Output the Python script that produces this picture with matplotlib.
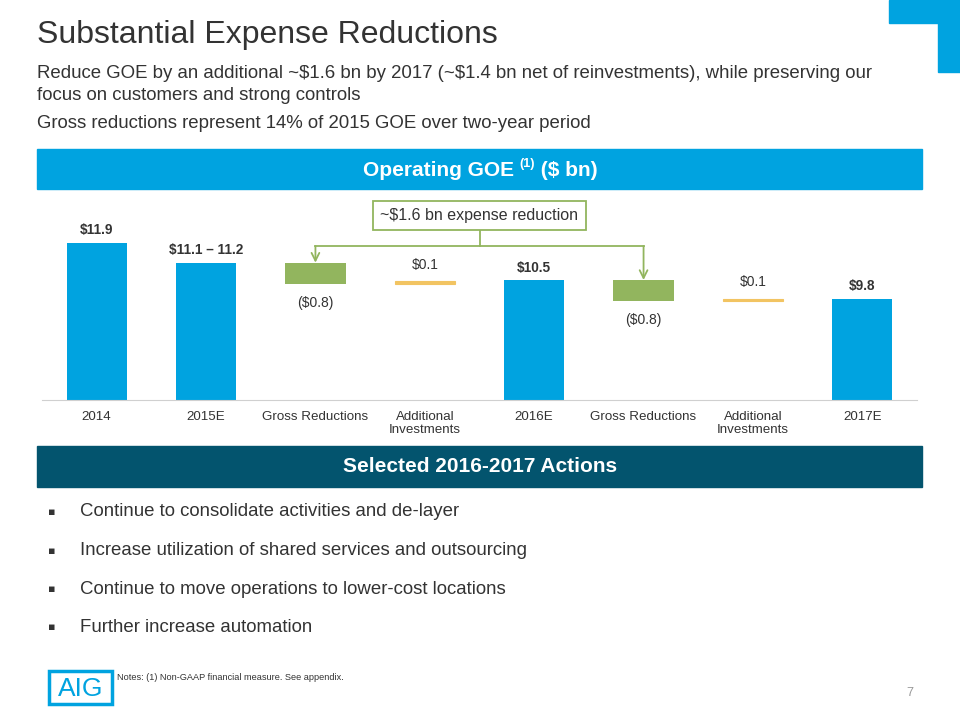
import matplotlib.pyplot as plt
from matplotlib.patches import Rectangle

plt.rcParams['font.family'] = ['Liberation Sans', 'DejaVu Sans']
plt.rcParams['text.parse_math'] = False

# chart data
categories = ['2014', '2015E', 'Gross Reductions', 'Additional\nInvestments',
              '2016E', 'Gross Reductions', 'Additional\nInvestments', '2017E']
kinds = ['total', 'total', 'down', 'up', 'total', 'down', 'up', 'total']
values = [11.9, 11.15, -0.8, 0.1, 10.5, -0.8, 0.1, 9.8]
labels = ['$11.9', '$11.1 – 11.2', '($0.8)', '$0.1', '$10.5', '($0.8)', '$0.1', '$9.8']

bullets = ['Continue to consolidate activities and de-layer',
           'Increase utilization of shared services and outsourcing',
           'Continue to move operations to lower-cost locations',
           'Further increase automation']

BLUE = '#00A3E0'
DARK = '#03546E'
GREEN = '#92B55E'
GOLD = '#F2C462'
TXT = '#333333'

W, H = 960, 720
fig = plt.figure(figsize=(9.6, 7.2), dpi=100)

def fx(px):
    return px / W

def fy(py):
    return 1 - py / H

# corner decoration
fig.patches.append(Rectangle((fx(889), fy(23)), fx(71), 23 / H, transform=fig.transFigure,
                             color=BLUE, zorder=0))
fig.patches.append(Rectangle((fx(938), fy(72)), fx(22), 72 / H, transform=fig.transFigure,
                             color=BLUE, zorder=0))

# title and subtitles
fig.text(fx(37), fy(35), 'Substantial Expense Reductions', fontsize=23, color=TXT, va='center')
fig.text(fx(37), fy(74), 'Reduce GOE by an additional ~$1.6 bn by 2017 (~$1.4 bn net of reinvestments), while preserving our',
         fontsize=13.45, color=TXT, va='center')
fig.text(fx(37), fy(96), 'focus on customers and strong controls', fontsize=13.45, color=TXT, va='center')
fig.text(fx(37), fy(123), 'Gross reductions represent 14% of 2015 GOE over two-year period',
         fontsize=13.45, color=TXT, va='center')

# banners
fig.patches.append(Rectangle((fx(37), fy(189)), fx(885), 40 / H, transform=fig.transFigure,
                             color=BLUE, zorder=0))
fig.patches.append(Rectangle((fx(37), fy(487)), fx(885), 41 / H, transform=fig.transFigure,
                             color=DARK, zorder=0))
fig.text(0.5, fy(467), 'Selected 2016-2017 Actions', fontsize=15, color='white',
         fontweight='bold', ha='center', va='center')

# banner title with superscript, laid out piece by piece
renderer = fig.canvas.get_renderer()
pieces = [('Operating GOE ', 15, 0), ('(1)', 9, 6), (' ($ bn)', 15, 0)]
objs = []
total = 0
for s, size, lift in pieces:
    t = fig.text(0, fy(170) + lift / H, s, fontsize=size, color='white', fontweight='bold',
                 va='center', ha='left')
    w = t.get_window_extent(renderer).width
    objs.append((t, w))
    total += w
x = (W - total) / 2
for t, w in objs:
    t.set_x(fx(x))
    x += w

# waterfall
ax = fig.add_axes([fx(42), fy(400), fx(875), 200 / H])
running = 0
tops = []
for i, (k, v) in enumerate(zip(kinds, values)):
    if k == 'total':
        ax.bar(i, v - 6.0, bottom=6.0, width=0.55, color=BLUE)
        running = v
        tops.append(v)
        ax.text(i, v + 0.2, labels[i], ha='center', va='bottom', fontsize=9.8,
                fontweight='bold', color=TXT)
    elif k == 'down':
        ax.bar(i, -v, bottom=running + v, width=0.55, color=GREEN)
        tops.append(running)
        ax.text(i, running + v - 0.45, labels[i], ha='center', va='top', fontsize=10, color=TXT)
        running += v
    else:
        ax.bar(i, v, bottom=running, width=0.55, color=GOLD, ec=GOLD, lw=0.8)
        tops.append(running + v)
        ax.text(i, running + v + 0.35, labels[i], ha='center', va='bottom', fontsize=10, color=TXT)
        running += v

ax.set_xlim(-0.5, len(categories) - 0.5)
ax.set_ylim(6.0, 13.5)
ax.set_xticks(range(len(categories)))
ax.set_xticklabels(categories, fontsize=9.6, color=TXT, linespacing=1.15)
ax.tick_params(axis='x', length=0, pad=8)
ax.set_yticks([])
for s in ['top', 'right', 'left']:
    ax.spines[s].set_visible(False)
ax.spines['bottom'].set_color('#D0D0D0')
ax.patch.set_alpha(0)

# annotation box and connectors
down_idx = [i for i, k in enumerate(kinds) if k == 'down']
mid = sum(down_idx) / len(down_idx)
ax.text(mid, 12.93, '~$1.6 bn expense reduction', ha='center', va='center', fontsize=11.5,
        color=TXT, bbox=dict(boxstyle='square,pad=0.45', fc='white', ec=GREEN, lw=1.3))
yh = 11.77
ax.plot([mid, mid], [12.45, yh], color=GREEN, lw=1.3)
ax.plot([down_idx[0], down_idx[-1]], [yh, yh], color=GREEN, lw=1.3)
for i in down_idx:
    ax.annotate('', xy=(i, tops[i]), xytext=(i, yh),
                arrowprops=dict(arrowstyle='->', color=GREEN, lw=1.3, shrinkA=0, shrinkB=0,
                                mutation_scale=14))

# bullets
for j, b in enumerate(bullets):
    y = 512 + j * 38.5
    fig.text(fx(48), fy(y), '▪', fontsize=8, color=TXT, va='center', family='DejaVu Sans')
    fig.text(fx(80), fy(y), b, fontsize=13.4, color=TXT, va='center')

# footer
fig.patches.append(Rectangle((fx(49), fy(704)), fx(63), 33 / H, transform=fig.transFigure,
                             fill=False, ec=BLUE, lw=2.5))
fig.text(fx(80.5), fy(688.5), 'AIG', fontsize=19, color=BLUE, ha='center', va='center')
fig.text(fx(117), fy(677), 'Notes: (1) Non-GAAP financial measure. See appendix.', fontsize=6.6,
         color=TXT, va='center')
fig.text(fx(910), fy(693), '7', fontsize=9, color='#999999', ha='center', va='center')

fig.savefig('out.png', dpi=100)
